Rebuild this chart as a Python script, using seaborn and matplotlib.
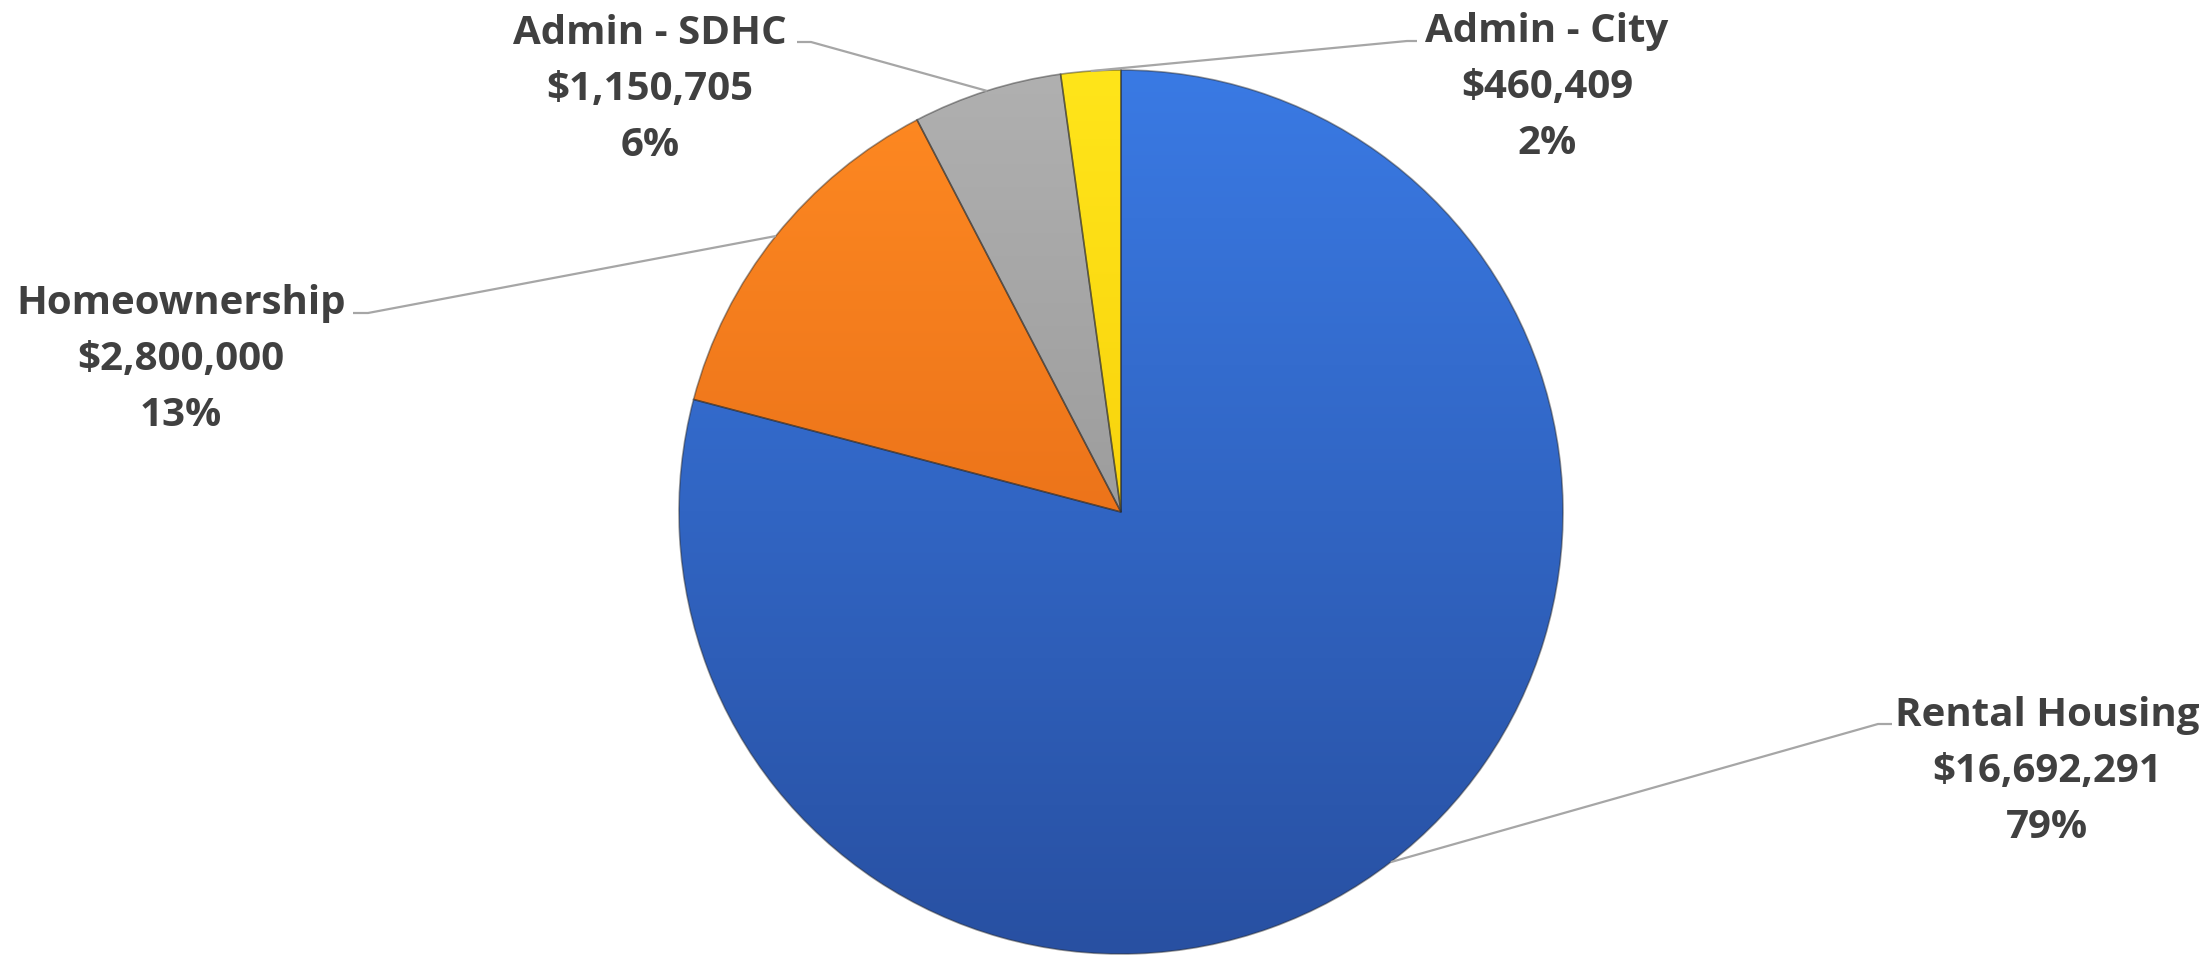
import numpy as np
import seaborn as sns
import matplotlib.pyplot as plt
from matplotlib.colors import to_rgb

# --- data ---
categories = ["Rental Housing", "Homeownership", "Admin - SDHC", "Admin - City"]
amounts = [16692291, 2800000, 1150705, 460409]
pct_labels = [79, 13, 6, 2]

# gradient colours (top, bottom) per slice
top_colors = ["#3A7AE4", "#FF8A22", "#B0B0B0", "#FFE51A"]
bottom_colors = ["#2850A2", "#DA5E12", "#8A8A8A", "#F2C200"]

W, H = 2212, 955
CX, CY, R = 1121, 512, 442   # pie centre / radius in pixels (y from top)

# label block centres and leader elbows (pixels, y from top)
label_pos = [(2047, 767), (181, 355), (650, 85), (1547, 83)]
elbows = [((1878, 724), (1892, 724)),
          ((368, 313), (353, 313)),
          ((811, 42), (797, 42)),
          ((1407, 41), (1417, 41))]

sns.set_theme(style="white")
plt.rcParams['font.family'] = ['Open Sans', 'DejaVu Sans']

fig = plt.figure(figsize=(W / 100, H / 100), dpi=100)
ax = fig.add_axes([0, 0, 1, 1])


def fy(y):
    return H - y


wedges, _ = ax.pie(amounts, startangle=90, counterclock=False,
                   center=(CX, fy(CY)), radius=R,
                   colors=sns.color_palette(bottom_colors),
                   wedgeprops=dict(edgecolor=(0.15, 0.15, 0.15, 0.45), linewidth=1.2))

ax.set_xlim(0, W)
ax.set_ylim(0, H)
ax.set_aspect('equal')
ax.axis('off')

# vertical gradient fill clipped to each wedge
t = np.linspace(0, 1, 256)[:, None]
for w, c0, c1 in zip(wedges, top_colors, bottom_colors):
    a, b = np.array(to_rgb(c0)), np.array(to_rgb(c1))
    grad = (a * (1 - t) + b * t)[:, None, :]
    im = ax.imshow(grad, extent=(CX - R, CX + R, fy(CY + R), fy(CY - R)),
                   aspect='auto', zorder=1, interpolation='bilinear')
    im.set_clip_path(w)
    w.set_facecolor('none')
    w.set_zorder(2)

ax.set_xlim(0, W)
ax.set_ylim(0, H)

# labels and leader lines
for w, name, amt, pct, (lx, ly), (elb, end) in zip(wedges, categories, amounts,
                                                  pct_labels, label_pos, elbows):
    mid = np.deg2rad((w.theta1 + w.theta2) / 2)
    px, py = CX + R * np.cos(mid), fy(CY) + R * np.sin(mid)
    ax.plot([px, elb[0], end[0]], [py, fy(elb[1]), fy(end[1])],
            color="#A6A6A6", lw=1.6, zorder=3, solid_capstyle='butt')
    lines = [name, f"${amt:,.0f}", f"{pct}%"]
    for i, s in enumerate(lines):
        ax.text(lx, fy(ly + (i - 1) * 56), s, ha='center', va='center_baseline',
                fontsize=29, fontweight='bold', color="#404040", zorder=4)

fig.savefig("out.png", dpi=100)
